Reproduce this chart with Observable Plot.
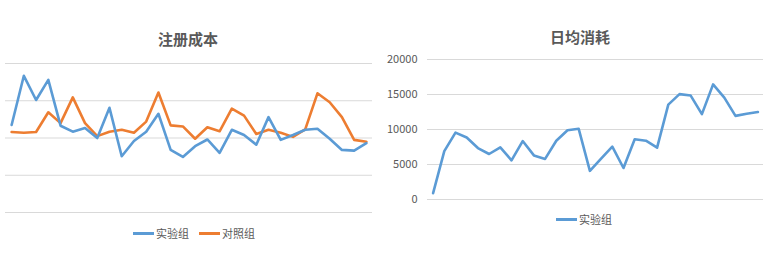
<!DOCTYPE html>
<html><head><meta charset="utf-8">
<script src="https://cdn.jsdelivr.net/npm/d3@7"></script>
<script src="https://cdn.jsdelivr.net/npm/@observablehq/plot@0.6"></script>
<style>
body{margin:0;background:#fff;font-family:"Noto Sans CJK SC","Noto Sans",sans-serif;}
#wrap{position:relative;width:763px;height:262px;overflow:hidden;}
.abs{position:absolute;}
.title{font-size:15px;font-weight:bold;color:#595959;transform:translate(-50%,-50%);white-space:nowrap;}
.leg{font-size:11px;color:#595959;display:flex;align-items:center;white-space:nowrap;transform:translateY(-50%);}
.sw{display:inline-block;width:21px;height:3px;margin-right:2px;}
</style></head><body>
<div id="wrap">
  <div class="abs title" style="left:188px;top:38px">注册成本</div>
  <div class="abs title" style="left:580px;top:36px">日均消耗</div>
  <div id="p1" class="abs" style="left:0;top:55px"></div>
  <div id="p2" class="abs" style="left:380px;top:50px"></div>
  <div class="abs leg" style="left:133px;top:233px"><span class="sw" style="background:#5B9BD5"></span>实验组<span style="width:10px;display:inline-block"></span><span class="sw" style="background:#ED7D31"></span>对照组</div>
  <div class="abs leg" style="left:556px;top:219px"><span class="sw" style="background:#5B9BD5"></span>实验组</div>
</div>
<script>
const days = d3.range(30);
const costExp = [23.5,36.7,30.2,35.6,23.3,21.7,22.7,20.0,28.1,15.1,19.2,21.7,26.5,16.8,14.9,17.8,19.6,16.0,22.2,20.8,18.2,25.6,19.5,20.8,22.2,22.5,19.8,16.8,16.6,18.6];
const costCtl = [21.6,21.4,21.6,26.9,24.0,30.9,24.0,20.5,21.7,22.2,21.4,24.4,32.2,23.4,23.1,19.8,22.9,21.8,27.9,26.0,21.1,22.2,21.4,20.3,22.3,32.0,29.6,25.6,19.5,19.0];
const spend = [900,6900,9550,8850,7350,6500,7450,5600,8350,6300,5800,8400,9900,10100,4100,5850,7550,4500,8600,8400,7400,13550,15050,14850,12200,16450,14550,11950,12250,12500];
const costTicks = [0,10,20,30,40];
const spendTicks = [0,5000,10000,15000,20000];

const rows1 = days.flatMap(i => [
  {day:i, v:costExp[i], g:"实验组"},
  {day:i, v:costCtl[i], g:"对照组"}
]);
const p1 = Plot.plot({
  width:378, height:165, marginLeft:5, marginRight:6, marginTop:8, marginBottom:8,
  style:{fontFamily:"Noto Sans CJK SC, sans-serif", fontSize:"11px", color:"#595959", background:"transparent"},
  x:{type:"linear", domain:[-0.5,29.5], axis:null},
  y:{domain:[0,40], axis:null},
  color:{domain:["实验组","对照组"], range:["#5B9BD5","#ED7D31"]},
  marks:[
    Plot.ruleY(costTicks,{stroke:"#D9D9D9", strokeWidth:1}),
    Plot.line(rows1.filter(d=>d.g==="对照组"),{x:"day", y:"v", stroke:"g", strokeWidth:2.6, strokeLinejoin:"round"}),
    Plot.line(rows1.filter(d=>d.g==="实验组"),{x:"day", y:"v", stroke:"g", strokeWidth:2.6, strokeLinejoin:"round"})
  ]
});
document.getElementById("p1").append(p1);

const rows2 = days.map(i => ({day:i, v:spend[i]}));
const p2 = Plot.plot({
  width:383, height:159, marginLeft:47, marginRight:0, marginTop:9, marginBottom:10,
  style:{fontFamily:"Noto Sans CJK SC, sans-serif", fontSize:"11px", color:"#595959", background:"transparent"},
  x:{type:"linear", domain:[-0.5,29.5], axis:null},
  y:{domain:[0,20000], ticks:spendTicks, tickSize:0, tickPadding:10, tickFormat:d=>String(d), label:null},
  marks:[
    Plot.ruleY(spendTicks,{stroke:"#D9D9D9", strokeWidth:1}),
    Plot.line(rows2,{x:"day", y:"v", stroke:"#5B9BD5", strokeWidth:2.6, strokeLinejoin:"round"})
  ]
});
document.getElementById("p2").append(p2);
</script>
</body></html>
